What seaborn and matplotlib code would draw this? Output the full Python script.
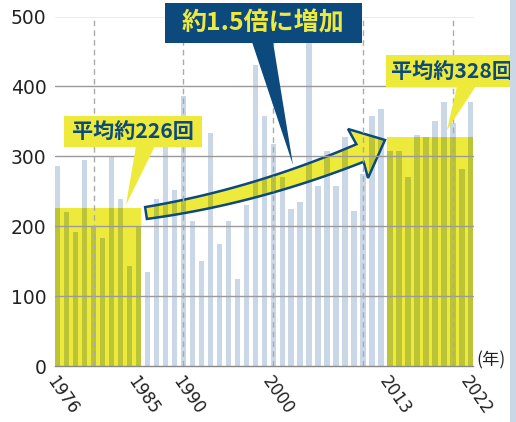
import numpy as np
import matplotlib
matplotlib.use("Agg")
import matplotlib.pyplot as plt
import seaborn as sns
from matplotlib.patches import Polygon, Rectangle
from matplotlib.transforms import Affine2D

# yearly counts
years = np.arange(1976, 2023)
counts = [286, 221, 192, 294, 201, 183, 299, 239, 143, 200,
          134, 239, 314, 252, 386, 207, 150, 334, 174, 207,
          124, 231, 430, 358, 318, 270, 225, 235, 463, 257,
          308, 257, 327, 222, 274, 357, 367, 308, 308, 271,
          331, 327, 351, 378, 347, 282, 378]
periods = [(1976, 1985), (2013, 2022)]
label_years = [1976, 1985, 1990, 2000, 2013, 2022]
y_ticks = [0, 100, 200, 300, 400, 500]
decades = [1980, 1990, 2000, 2010, 2020]

bar_col = "#c9d7e6"
yellow = "#eeea3c"
olive = "#bbc437"
navy = "#0c4a7d"

sns.set_style("white")
plt.rcParams["font.family"] = ["Noto Sans CJK JP", "DejaVu Sans"]

fig = plt.figure(figsize=(5.16, 4.22), dpi=100)
ax = fig.add_axes([55 / 516, 1 - 366 / 422, 418.5 / 516, 349.5 / 422])
# pixel coordinates of the 516x422 picture, y going down
px = Affine2D().scale(1 / 516, -1 / 422).translate(0, 1) + fig.transFigure

counts = np.array(counts)
bw = 0.6
bar_kw = dict(native_scale=True, saturation=1, width=bw, edgecolor="none",
              linewidth=0, ax=ax)
sns.barplot(x=years, y=counts, color=bar_col, **bar_kw)

means = []
for a, b in periods:
    m = (years >= a) & (years <= b)
    avg = counts[m].mean()
    means.append(avg)
    ax.add_patch(Rectangle((a - bw / 2, 0), b - a + bw, avg,
                           facecolor=yellow, edgecolor="none", zorder=2))
    sns.barplot(x=years[m], y=np.minimum(counts[m], avg), color=olive, **bar_kw)
    for p in ax.containers[-1]:
        p.set_zorder(2.5)

# grid
for v in y_ticks[1:]:
    ax.axhline(v, color="#9a9a9a", lw=1, zorder=5.5)
for d in decades:
    ax.axvline(d, color="#aaaaaa", lw=1, ls=(0, (4, 3)), zorder=5.5)

# curved arrow
t = np.linspace(0, 1, 60)
P0, C, P2 = np.array([146, 213.]), np.array([253, 197.]), np.array([360, 153.])
pts = ((1 - t) ** 2)[:, None] * P0 + (2 * (1 - t) * t)[:, None] * C + (t ** 2)[:, None] * P2
dv = 2 * (1 - t)[:, None] * (C - P0) + 2 * t[:, None] * (P2 - C)
nv = np.column_stack([dv[:, 1], -dv[:, 0]]) / np.linalg.norm(dv, axis=1)[:, None]
w = 12 + 7 * t
top = pts + nv * w[:, None] / 2
bot = pts - nv * w[:, None] / 2
head = np.array([[348, 129], [385, 140], [368, 178]])
poly = np.vstack([top, head, bot[::-1]])
arrow_fill = Polygon(poly, closed=True, transform=px, facecolor=yellow,
                     edgecolor="none", zorder=5, clip_on=False)
ax.add_patch(arrow_fill)
sns.barplot(x=years, y=counts, color=olive, **bar_kw)
for p in ax.containers[-1]:
    p.set_zorder(5.1)
    p.set_clip_path(arrow_fill)
ax.add_patch(Polygon(poly, closed=True, transform=px, fill=False,
                     edgecolor=navy, lw=1.8, joinstyle="miter",
                     zorder=5.3, clip_on=False))

# callouts
def callout(box, tri, fc, text, tc, size, center):
    x0, y0, x1, y1 = box
    ax.add_patch(Polygon([[x0, y0], [x1, y0], [x1, y1], [x0, y1]], closed=True,
                         transform=px, facecolor=fc, edgecolor="none",
                         zorder=7, clip_on=False))
    ax.add_patch(Polygon(tri, closed=True, transform=px, facecolor=fc,
                         edgecolor="none", zorder=7, clip_on=False))
    ax.text(center[0], center[1], text, transform=px, color=tc, fontsize=size,
            fontweight="bold", ha="center", va="center", zorder=8)

callout((165, 3, 362, 43), [[252, 42], [273, 42], [293, 165]], navy,
        "約1.5倍に増加", yellow, 18, (263, 23))
callout((64, 116, 202, 147), [[136, 146], [155, 146], [126, 205]], yellow,
        f"平均約{round(means[0])}回", navy, 15.2, (132.5, 131.5))
callout((386, 55, 516, 87), [[457, 86], [476, 86], [447, 130]], yellow,
        f"平均約{round(means[1])}回", navy, 15.2, (452, 71))

# axes
ax.set_xlim(years[0] - bw / 2, years[-1] + bw / 2)
ax.set_ylim(0, 500)
ax.set_yticks(y_ticks)
ax.set_yticklabels([str(v) for v in y_ticks], fontfamily="DejaVu Sans")
ax.set_xticks(years)
ax.set_xticklabels([str(y) if y in label_years else "" for y in years],
                   rotation=-55, ha="left", va="top", rotation_mode="anchor",
                   fontfamily="DejaVu Sans")
ax.tick_params(axis="y", length=0, pad=6, labelsize=13.5, labelcolor="#222222")
ax.tick_params(axis="x", direction="in", length=4, width=1, color="#888888",
               pad=5, labelsize=12, labelcolor="#222222")
ax.set_xlabel("")
ax.set_ylabel("")
for s in ["left", "right", "top"]:
    ax.spines[s].set_visible(False)
ax.spines["bottom"].set_color("#888888")
ax.spines["bottom"].set_linewidth(1)
ax.spines["bottom"].set_zorder(6)

ax.text(491, 360, "(年)", transform=px, fontsize=12.5, color="#222222",
        ha="center", va="center")

fig.add_artist(Rectangle((510, 0), 6, 422, transform=px, facecolor=bar_col,
                         edgecolor="none"))

fig.savefig("out.png", dpi=100)
